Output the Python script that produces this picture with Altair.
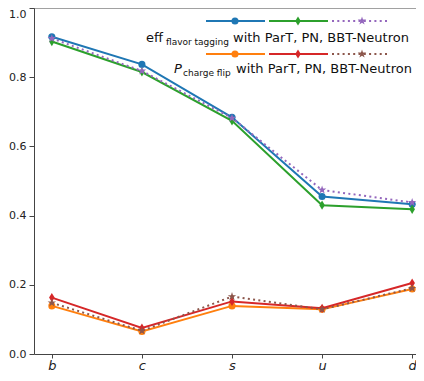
import altair as alt
import pandas as pd

categories = ["b", "c", "s", "u", "d"]
eff_part = [0.917, 0.837, 0.684, 0.455, 0.433]
eff_pn = [0.903, 0.815, 0.674, 0.430, 0.418]
eff_bbt = [0.912, 0.818, 0.682, 0.474, 0.438]
pflip_part = [0.139, 0.065, 0.139, 0.129, 0.188]
pflip_pn = [0.163, 0.075, 0.152, 0.132, 0.205]
pflip_bbt = [0.148, 0.067, 0.166, 0.129, 0.190]

STAR = ("M0,-1L0.2245,-0.309L0.951,-0.309L0.363,0.118L0.588,0.809L0,0.382"
        "L-0.588,0.809L-0.363,0.118L-0.951,-0.309L-0.2245,-0.309Z")
THIN_DIAMOND = "M0,-1L0.6,0L0,1L-0.6,0Z"

# name, values, color, shape, size, dotted
series = [
    ("eff ParT", eff_part, "#1f77b4", "circle", 50, False),
    ("Pflip ParT", pflip_part, "#ff7f0e", "circle", 50, False),
    ("eff PN", eff_pn, "#2ca02c", THIN_DIAMOND, 85, False),
    ("Pflip PN", pflip_pn, "#d62728", THIN_DIAMOND, 85, False),
    ("eff BBT", eff_bbt, "#9467bd", STAR, 80, True),
    ("Pflip BBT", pflip_bbt, "#8c564b", STAR, 80, True),
]

W, H = 382, 346
XR = 396  # x range extends past the visible edge (cropped right side)
FONT = "DejaVu Sans"
AX = "#444"

x_enc = alt.X("cat:O", sort=categories,
              scale=alt.Scale(type="point", padding=0.198, range=[0, XR]),
              axis=alt.Axis(title=None, labelAngle=0, labelFont=FONT,
                            labelFontStyle="italic", labelFontSize=13,
                            labelColor="#222", tickSize=4, tickColor=AX,
                            domainColor=AX, labelPadding=1, grid=False))
y_enc = alt.Y("val:Q", scale=alt.Scale(domain=[0, 1], nice=False),
              axis=alt.Axis(title=None, values=[0, 0.2, 0.4, 0.6, 0.8, 1.0],
                            format=".1f", labelFont=FONT, labelFontSize=11,
                            labelColor="#222", tickSize=5, tickColor=AX,
                            domainColor=AX, labelPadding=3, grid=False,
                            labelBaseline={"condition": {"test": "datum.value >= 0.99",
                                                         "value": "top"},
                                           "value": "middle"}))

one = pd.DataFrame({"k": [0]})
layers = []

# top spine
layers.append(alt.Chart(one).mark_rule(color=AX, strokeWidth=1).encode(
    x=alt.value(0), x2=alt.value(XR), y=alt.value(0)))

for name, vals, color, shape, size, dotted in series:
    df = pd.DataFrame({"cat": categories, "val": vals})
    base = alt.Chart(df).encode(x=x_enc, y=y_enc)
    line_kw = dict(color=color, strokeWidth=2)
    if dotted:
        line_kw["strokeDash"] = [2, 3.3]
    layers.append(base.mark_line(**line_kw))
    layers.append(base.mark_point(filled=True, shape=shape, size=size,
                                  color=color, opacity=1))

# custom legend
leg_cols = [(172, 231, 201), (235, 294, 264), (298, 356, 328)]
leg_rows = [13, 46]
for i, (name, vals, color, shape, size, dotted) in enumerate(series):
    col = i // 2
    row = i % 2
    x1, x2, xm = leg_cols[col]
    yy = leg_rows[row]
    kw = dict(color=color, strokeWidth=2)
    if dotted:
        kw["strokeDash"] = [2, 3.3]
    layers.append(alt.Chart(one).mark_rule(**kw).encode(
        x=alt.value(x1), x2=alt.value(x2), y=alt.value(yy)))
    layers.append(alt.Chart(one).mark_point(
        filled=True, shape=shape, size=size, color=color, opacity=1).encode(
        x=alt.value(xm), y=alt.value(yy)))

texts = [
    ("eff", 112, 34, 13, "normal"),
    ("flavor tagging", 132, 37, 9, "normal"),
    ("with ParT, PN, BBT-Neutron", 199, 34, 13, "normal"),
    ("P", 140, 65, 13, "italic"),
    ("charge flip", 149, 68, 9, "normal"),
    ("with ParT, PN, BBT-Neutron", 202, 65, 13, "normal"),
]
for t, tx, ty, fs, st in texts:
    layers.append(alt.Chart(one).mark_text(
        text=t, align="left", baseline="alphabetic", font=FONT, fontSize=fs,
        fontStyle=st, color="#111").encode(x=alt.value(tx), y=alt.value(ty)))

chart = alt.layer(*layers).properties(
    width=W, height=H,
    autosize=alt.AutoSizeParams(type="none"),
    padding={"left": 26, "top": 0, "right": 0, "bottom": 19},
).configure_view(stroke=None)

chart.save("out.html", embed_options={"renderer": "svg", "actions": False})
